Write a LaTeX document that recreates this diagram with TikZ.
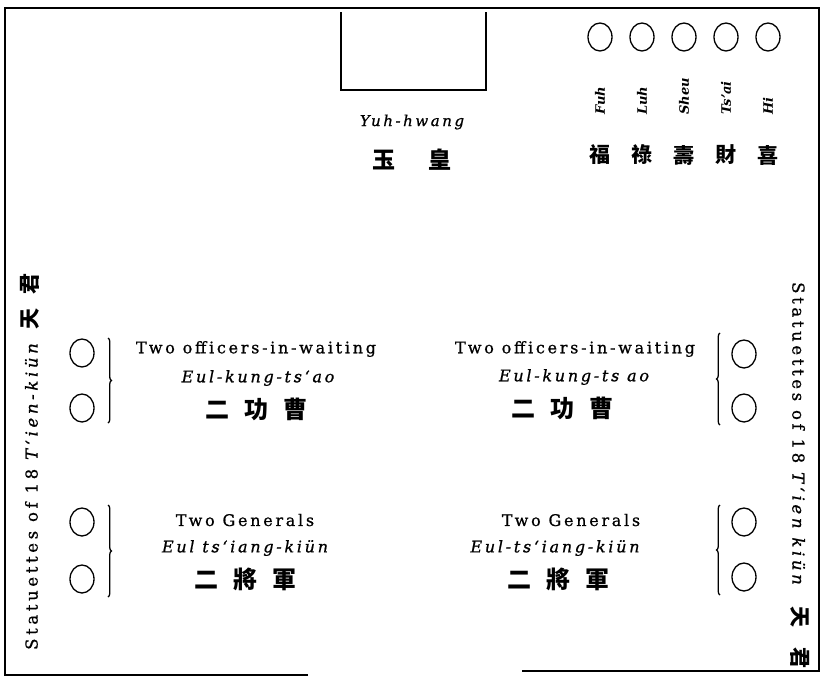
\documentclass[tikz,border=0pt]{standalone}
\usepackage{fontspec}
\setmainfont{DejaVu Serif}
\newfontfamily\spc[LetterSpace=17,FakeBold=0.8]{DejaVu Serif}
\newfontfamily\sidespc[LetterSpace=22,FakeBold=0.8]{DejaVu Serif}
\newfontfamily\plain{DejaVu Serif}
\newfontfamily\cjk{Noto Sans CJK TC}
\usetikzlibrary{shapes.geometric,decorations.pathreplacing}
\begin{document}
\begin{tikzpicture}[x=1pt,y=-1pt,
  wall/.style={line width=2.6pt, line join=miter},
  altar/.style={line width=1.8pt},
  statue/.style={draw, ellipse, line width=1.3pt, minimum width=24pt, minimum height=28pt, inner sep=0pt},
  bracket/.style={line width=1.3pt, decorate, decoration={brace, amplitude=3.5pt, aspect=0.5}},
  eng/.style={inner sep=0pt, font=\spc\fontsize{16}{18}\selectfont},
  rom/.style={inner sep=0pt, font=\spc\itshape\fontsize{16}{18}\selectfont},
  han/.style={inner sep=0pt, font=\cjk\bfseries\fontsize{24}{26}\selectfont},
  lab/.style={inner sep=0pt, font=\plain\bfseries\itshape\fontsize{13}{15}\selectfont},
  side/.style={inner sep=0pt, font=\sidespc\fontsize{16.5}{18}\selectfont},
]
\useasboundingbox (0,0) rectangle (830,681);

% outer walls
\coordinate (wbl) at (308,675);
\coordinate (wcl) at (5,675);
\coordinate (wtl) at (5,8);
\coordinate (wtr) at (819,8);
\coordinate (wcr) at (819,671);
\coordinate (wbr) at (522,671);
\draw[wall] (wbl) -- (wcl) -- (wtl) -- (wtr) -- (wcr) -- (wbr);

% altar of Yuh-hwang
\coordinate (a1) at (341,12);
\coordinate (a2) at (341,90);
\coordinate (a3) at (486,90);
\coordinate (a4) at (486,12);
\draw[altar] (a1) -- (a2) -- (a3) -- (a4);
\node[rom, font=\spc\itshape\fontsize{15}{17}\selectfont] (yh) at (412,122) {Yuh-hwang};
\node[han, font=\cjk\bfseries\fontsize{23}{25}\selectfont] (yhc) at (412,160) {玉\hskip33pt皇};

% five gods of happiness
\foreach \i/\x/\r/\c in {1/600/Fuh/福, 2/642/Luh/祿, 3/684/Sheu/壽, 4/726/Ts’ai/財, 5/768/Hi/喜}{
  \node[statue] (t\i) at (\x,37) {};
  \node[lab, rotate=90, anchor=west] (tl\i) at (\x,115) {\r};
  \node[han, font=\cjk\bfseries\fontsize{21}{23}\selectfont] (tc\i) at (\x,155) {\c};
}

% left statues
\node[statue] (lo1) at (82,353) {};
\node[statue] (lo2) at (82,408) {};
\node[statue] (lg1) at (82,522) {};
\node[statue] (lg2) at (82,579) {};
% right statues
\node[statue] (ro1) at (744,354) {};
\node[statue] (ro2) at (744,408) {};
\node[statue] (rg1) at (744,522) {};
\node[statue] (rg2) at (744,577) {};

% brackets
\coordinate (blo1) at (108,338); \coordinate (blo2) at (108,423);
\coordinate (blg1) at (108,505); \coordinate (blg2) at (108,597);
\coordinate (bro1) at (720,333); \coordinate (bro2) at (720,425);
\coordinate (brg1) at (720,505); \coordinate (brg2) at (720,595);
\draw[bracket] (blo1) -- (blo2);
\draw[bracket] (blg1) -- (blg2);
\draw[bracket] (bro2) -- (bro1);
\draw[bracket] (brg2) -- (brg1);

% officers
\node[eng] (oe1) at (256,349) {Two officers-in-waiting};
\node[rom] (or1) at (258,378) {Eul-kung-ts‘ao};
\node[han] (oc1) at (256,409) {二\hskip15pt功\hskip15pt曹};
\node[eng] (oe2) at (575,349) {Two officers-in-waiting};
\node[rom] (or2) at (574,377) {Eul-kung-ts ao};
\node[han] (oc2) at (562,408) {二\hskip15pt功\hskip15pt曹};

% generals
\node[eng] (ge1) at (245,520) {Two Generals};
\node[rom] (gr1) at (245,548) {Eul ts‘iang-kiün};
\node[han] (gc1) at (245,579) {二\hskip15pt將\hskip15pt軍};
\node[eng] (ge2) at (571,520) {Two Generals};
\node[rom] (gr2) at (555,548) {Eul-ts‘iang-kiün};
\node[han] (gc2) at (558,579) {二\hskip15pt將\hskip15pt軍};

% side labels
\node[side, rotate=90, anchor=west] (ls) at (30,650)
  {Statuettes of 18 \textit{T‘ien-kiün}\hskip10pt{\cjk\bfseries\fontsize{21}{23}\selectfont 天\hskip14pt君}};
\node[side, rotate=-90, anchor=west] (rs) at (800,282)
  {Statuettes of 18 \textit{T‘ien kiün}\hskip18pt{\cjk\bfseries\fontsize{21}{23}\selectfont 天\hskip20pt君}};
\end{tikzpicture}
\end{document}
